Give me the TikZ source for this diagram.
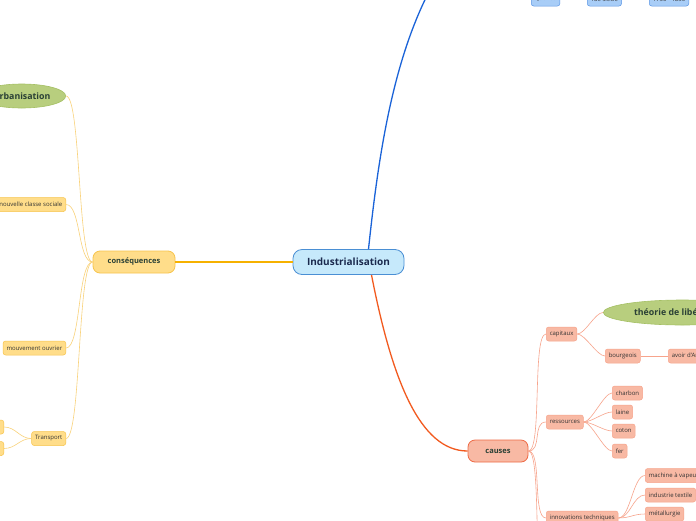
\documentclass[tikz,border=0pt]{standalone}
\usepackage{fontspec}
\setmainfont{Open Sans}
\usetikzlibrary{shapes.geometric}
\definecolor{rootfill}{HTML}{C6E9FB}
\definecolor{rootdraw}{HTML}{4A8FD4}
\definecolor{roottext}{HTML}{1B2A4E}
\definecolor{yfill}{HTML}{FFDD8A}
\definecolor{ydraw}{HTML}{F7C44C}
\definecolor{yline}{HTML}{F9D27A}
\definecolor{ymain}{HTML}{F6B100}
\definecolor{rfill}{HTML}{F8B9A4}
\definecolor{rdraw}{HTML}{EE6A45}
\definecolor{rline}{HTML}{F7A48C}
\definecolor{rmain}{HTML}{F25A1F}
\definecolor{gfill}{HTML}{B8CE7E}
\definecolor{gdraw}{HTML}{A5C064}
\definecolor{bmain}{HTML}{1A63D8}
\definecolor{bfill}{HTML}{A8CDF7}
\definecolor{bdraw}{HTML}{5C97E6}
\definecolor{maintext}{HTML}{2A4035}
\definecolor{smalltext}{HTML}{333333}
\tikzset{
  rootbox/.style={draw=rootdraw, fill=rootfill, line width=0.8pt, rounded corners=9pt,
    minimum width=111pt, minimum height=25pt, text=roottext, font=\fontsize{10}{12}\selectfont\bfseries},
  ymainbox/.style={draw=ydraw, fill=yfill, line width=0.8pt, rounded corners=7pt,
    minimum width=82pt, minimum height=22pt, text=maintext, font=\fontsize{7.5}{9}\selectfont\bfseries},
  rmainbox/.style={draw=rdraw, fill=rfill, line width=0.8pt, rounded corners=7pt,
    minimum width=60pt, minimum height=22pt, text=maintext, font=\fontsize{7.5}{9}\selectfont\bfseries},
  smallbox/.style={line width=0.5pt, rounded corners=2.5pt, minimum height=14pt,
    inner xsep=3.5pt, inner ysep=0pt, text=smalltext, font=\fontsize{6}{7}\selectfont},
  ybox/.style={smallbox, draw=ydraw, fill=yfill},
  rbox/.style={smallbox, draw=rline, fill=rfill},
  bbox/.style={smallbox, draw=bdraw, fill=bfill},
  gell/.style={ellipse, draw=gdraw, fill=gfill, line width=0.6pt, inner sep=0pt,
    minimum height=24pt, text=maintext, font=\fontsize{8.8}{10}\selectfont\bfseries},
  ylink/.style={draw=yline, line width=0.6pt},
  rlink/.style={draw=rline, line width=0.6pt},
  blink/.style={draw=bdraw, line width=0.6pt},
}
\begin{document}
\begin{tikzpicture}[x=1pt,y=-1pt]
\useasboundingbox (0,0) rectangle (696,520);
\clip (0,0) rectangle (696,520);
\fill[white] (0,0) rectangle (696,520);

% main nodes
\node[rootbox] (ind) at (348.5,262) {Industrialisation};
\node[ymainbox] (cons) at (134,262) {conséquences};
\node[rmainbox] (cau) at (498,451) {causes};
\coordinate (topb) at (432,-14);
\coordinate (more) at (546,600);

% left children
\node[gell, minimum width=88pt, anchor=east] (urb) at (66,96) {Urbanisation};
\node[ybox, anchor=east] (ncs) at (66,204.5) {nouvelle classe sociale};
\node[ybox, anchor=east] (mvo) at (66,348) {mouvement ouvrier};
\node[ybox, anchor=east] (tra) at (66,438.5) {Transport};
\node[ybox, anchor=east, minimum width=40pt] (tr1) at (4,427) {};
\node[ybox, anchor=east, minimum width=40pt] (tr2) at (4,448.5) {};

% right children
\node[rbox, anchor=west] (cap) at (546,334) {capitaux};
\node[gell, minimum width=158pt, minimum height=25pt, anchor=west] (lib) at (603,312.5) {théorie de libéralisme};
\node[rbox, anchor=west] (bou) at (605,356) {bourgeois};
\node[rbox, anchor=west] (arg) at (668,356) {avoir d'Argent};
\node[rbox, anchor=west] (res) at (546,422) {ressources};
\node[rbox, anchor=west] (cha) at (612,393) {charbon};
\node[rbox, anchor=west] (lai) at (612,412) {laine};
\node[rbox, anchor=west] (cot) at (612,431) {coton};
\node[rbox, anchor=west] (fer) at (612,451) {fer};
\node[rbox, anchor=west] (inn) at (546,518) {innovations techniques};
\node[rbox, anchor=west] (mac) at (645,475.5) {machine à vapeur};
\node[rbox, anchor=west] (tex) at (645,495) {industrie textile};
\node[rbox, anchor=west] (met) at (645,514) {métallurgie};

% top blue
\node[bbox, anchor=west] (qua) at (531,-1) {Quand?};
\node[bbox, anchor=west] (sie) at (587,-1) {18e siècle};
\node[bbox, anchor=west] (dat) at (649,-1) {1750 - 1850};

% main branches
\draw[draw=bmain, line width=1.3pt] ([xshift=20pt]ind.north) .. controls (378,160) and (392,60) .. (topb);
\draw[draw=rmain, line width=1.3pt] ([xshift=23pt]ind.south) .. controls (392,380) and (420,451) .. (cau.west);
\draw[draw=ymain, line width=1.3pt] (cons.east) -- (ind.west);

% consequences links
\foreach \c in {urb,ncs,mvo,tra}
  \draw[ylink] (cons.west) .. controls +(-15,0) and +(15,0) .. (\c.east);
\foreach \c in {tr1,tr2}
  \draw[ylink] (tra.west) .. controls +(-12,0) and +(12,0) .. (\c.east);

% causes links
\foreach \c in {cap,res,inn}
  \draw[rlink] (cau.east) .. controls +(14,0) and +(-14,0) .. (\c.west);
\draw[rlink] (cau.east) .. controls +(14,0) and +(-14,0) .. (more);
\foreach \c in {lib,bou}
  \draw[rlink] (cap.east) .. controls +(8,0) and +(-8,0) .. (\c.west);
\draw[rlink] (bou.east) -- (arg.west);
\foreach \c in {cha,lai,cot,fer}
  \draw[rlink] (res.east) .. controls +(8,0) and +(-8,0) .. (\c.west);
\foreach \c in {mac,tex,met}
  \draw[rlink] (inn.east) .. controls +(12,0) and +(-12,0) .. (\c.west);

% blue links
\draw[blink] (qua.east) -- (sie.west);
\draw[blink] (sie.east) -- (dat.west);
\end{tikzpicture}
\end{document}
